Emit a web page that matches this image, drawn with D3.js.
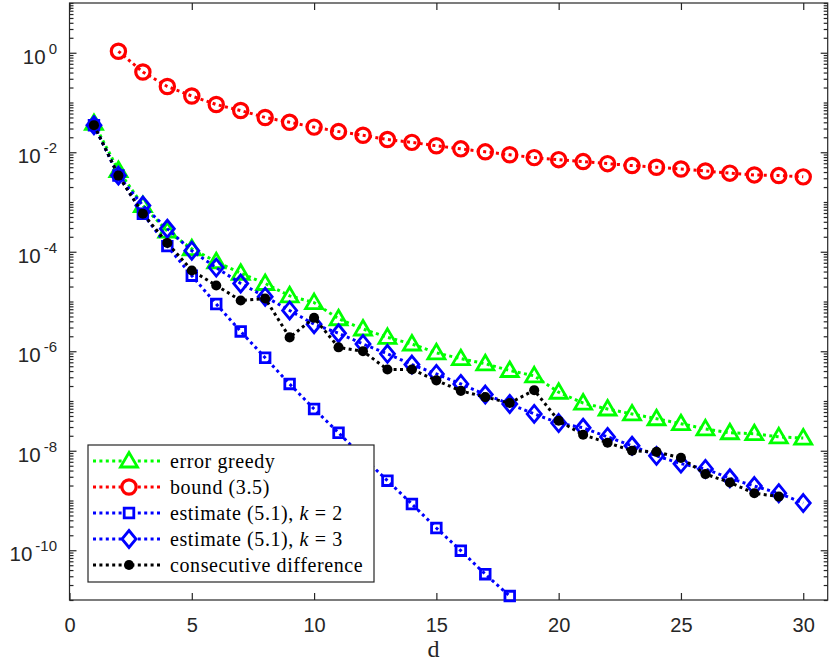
<!DOCTYPE html>
<html>
<head>
<meta charset="utf-8">
<script src="https://cdn.jsdelivr.net/npm/d3@7"></script>
<style>
  body { margin: 0; background: #fff; }
  svg { display: block; }
</style>
</head>
<body>
<svg id="chart" width="830" height="663"></svg>
<script>
// values
const dAll = d3.range(1, 31);

const errorGreedy = [3.8e-2, 4.3e-3, 8.5e-4, 2.6e-4, 1.15e-4, 6.3e-5, 3.7e-5, 2.3e-5, 1.3e-5, 9.5e-6,
  4.5e-6, 2.8e-6, 1.9e-6, 1.4e-6, 9.3e-7, 7.1e-7, 5.6e-7, 4.1e-7, 3.2e-7, 1.5e-7,
  9.1e-8, 6.9e-8, 5.5e-8, 4.4e-8, 3.5e-8, 2.75e-8, 2.3e-8, 2.2e-8, 1.9e-8, 1.8e-8];

const boundD = d3.range(2, 31);
const bound = [1.07, 0.41, 0.21, 0.135, 0.091, 0.069, 0.050, 0.040, 0.032, 0.026,
  0.022, 0.018, 0.0158, 0.0135, 0.0117, 0.0102, 0.0089, 0.0078, 0.0071, 0.0065,
  0.0059, 0.0054, 0.0050, 0.0046, 0.0042, 0.0038, 0.0035, 0.0034, 0.0032];

const estK2D = d3.range(1, 19);
const estK2 = [3.5e-2, 3.4e-3, 5.8e-4, 1.3e-4, 3.3e-5, 8.9e-6, 2.5e-6, 7.4e-7, 2.2e-7, 6.9e-8,
  2.3e-8, 7.4e-9, 2.5e-9, 8.5e-10, 2.8e-10, 9.8e-11, 3.3e-11, 1.2e-11];

const estK3 = [3.5e-2, 3.4e-3, 8.5e-4, 2.9e-4, 1.05e-4, 4.8e-5, 2.3e-5, 1.25e-5, 6.6e-6, 3.5e-6,
  2.3e-6, 1.4e-6, 8.9e-7, 5.4e-7, 3.5e-7, 2.2e-7, 1.35e-7, 8.7e-8, 5.5e-8, 3.6e-8,
  2.9e-8, 1.9e-8, 1.26e-8, 7.9e-9, 5.5e-9, 4.3e-9, 2.8e-9, 1.95e-9, 1.4e-9, 8.9e-10];

const consDiffD = d3.range(1, 30);
const consDiff = [3.5e-2, 3.4e-3, 5.8e-4, 1.5e-4, 4.2e-5, 2.1e-5, 1.05e-5, 1.15e-5, 1.9e-6, 4.7e-6,
  1.2e-6, 1.0e-6, 4.3e-7, 4.3e-7, 2.6e-7, 1.6e-7, 1.2e-7, 9.1e-8, 1.65e-7, 4.0e-8,
  2.1e-8, 1.45e-8, 1.0e-8, 9.5e-9, 7.2e-9, 3.4e-9, 2.3e-9, 1.4e-9, 1.2e-9];

const xTicks = [0, 5, 10, 15, 20, 25, 30];
const yLabelExp = [0, -2, -4, -6, -8, -10];

const svg = d3.select("#chart");
const axisColor = "#262626";

const pLeft = 69.5, pRight = 827.7, pTop = 3, pBottom = 600;
const x = d3.scaleLinear().domain([0, 31]).range([pLeft, pRight]);
const y = d3.scaleLog().domain([1e-11, 1e1]).range([pBottom, pTop]);

// box
svg.append("rect")
  .attr("x", pLeft).attr("y", pTop)
  .attr("width", pRight - pLeft).attr("height", pBottom - pTop)
  .attr("fill", "none").attr("stroke", axisColor).attr("stroke-width", 1.2);

// x axis bottom + top
svg.append("g")
  .attr("transform", `translate(0,${pBottom})`)
  .call(d3.axisBottom(x).tickValues(xTicks).tickSizeInner(-7).tickSizeOuter(0).tickPadding(17.5))
  .call(g => g.select(".domain").remove())
  .call(g => g.selectAll("line").attr("stroke", axisColor).attr("stroke-width", 1.2))
  .call(g => g.selectAll("text").attr("fill", axisColor)
    .style("font-family", "'Liberation Sans', Arial, sans-serif").style("font-size", "20px"));

svg.append("g")
  .attr("transform", `translate(0,${pTop})`)
  .call(d3.axisTop(x).tickValues(xTicks).tickSizeInner(-7).tickSizeOuter(0).tickFormat(""))
  .call(g => g.select(".domain").remove())
  .call(g => g.selectAll("line").attr("stroke", axisColor).attr("stroke-width", 1.2));

// y ticks: majors on labelled decades, minors everywhere else
const majorY = yLabelExp.map(e => Math.pow(10, e));
const minorY = [];
for (let e = -11; e <= 0; e++) {
  for (let m = 1; m <= 9; m++) {
    const v = m * Math.pow(10, e);
    if (m === 1 && e % 2 === 0) continue;
    minorY.push(v);
  }
}
minorY.push(10);

function yTicks(axisFn, xpos, values, size) {
  svg.append("g")
    .attr("transform", `translate(${xpos},0)`)
    .call(axisFn(y).tickValues(values).tickSizeInner(size).tickSizeOuter(0).tickFormat(""))
    .call(g => g.select(".domain").remove())
    .call(g => g.selectAll("line").attr("stroke", axisColor).attr("stroke-width", 1.2));
}
yTicks(d3.axisLeft, pLeft, majorY, -7);
yTicks(d3.axisLeft, pLeft, minorY, -4);
yTicks(d3.axisRight, pRight, majorY, -7);
yTicks(d3.axisRight, pRight, minorY, -4);

// y labels as 10^e
const yLab = svg.append("g").selectAll("text")
  .data(yLabelExp)
  .enter()
  .append("text")
  .attr("x", 57)
  .attr("y", e => y(Math.pow(10, e)) + 11)
  .attr("text-anchor", "end")
  .attr("fill", axisColor)
  .style("font-family", "'Liberation Sans', Arial, sans-serif")
  .style("font-size", "20.5px");
yLab.append("tspan").text("10");
yLab.append("tspan")
  .attr("dx", 3).attr("dy", -10)
  .style("font-size", "15px")
  .text(e => e === 0 ? "0" : "-" + Math.abs(e));

// x label
svg.append("text")
  .attr("x", (pLeft + pRight) / 2 - 15)
  .attr("y", 657)
  .attr("text-anchor", "middle")
  .attr("fill", axisColor)
  .style("font-family", "'Liberation Serif', 'DejaVu Serif', serif")
  .style("font-size", "24px")
  .text("d");

// marker shapes
const shapes = {
  triangle: "M0,-8.5L8.5,6L-8.5,6Z",
  circle: d3.symbol(d3.symbolCircle, 160)(),
  square: "M-4.8,-4.8H4.8V4.8H-4.8Z",
  diamond: "M0,-8.5L7,0L0,8.5L-7,0Z",
  dot: d3.symbol(d3.symbolCircle, 80)()
};

const series = [
  { name: "error greedy", xs: dAll, ys: errorGreedy, color: "#00ff00", shape: "triangle", sw: 2.8, fill: "none" },
  { name: "bound (3.5)", xs: boundD, ys: bound, color: "#ff0000", shape: "circle", sw: 3.2, fill: "none" },
  { name: "estimate (5.1), ", k: "2", xs: estK2D, ys: estK2, color: "#0000ff", shape: "square", sw: 2.8, fill: "none" },
  { name: "estimate (5.1), ", k: "3", xs: dAll, ys: estK3, color: "#0000ff", shape: "diamond", sw: 2.8, fill: "none" },
  { name: "consecutive difference", xs: consDiffD, ys: consDiff, color: "#000000", shape: "dot", sw: 0, fill: "#000000" }
];

const line = d3.line().x(d => x(d[0])).y(d => y(d[1]));
const plot = svg.append("g");

series.forEach(s => {
  const pts = s.xs.map((d, i) => [d, s.ys[i]]);
  const g = plot.append("g");
  g.append("path")
    .datum(pts)
    .attr("d", line)
    .attr("fill", "none")
    .attr("stroke", s.color)
    .attr("stroke-width", 3)
    .attr("stroke-dasharray", "3,3.4");
  g.selectAll("path.mk")
    .data(pts)
    .enter()
    .append("path")
    .attr("class", "mk")
    .attr("d", shapes[s.shape])
    .attr("transform", d => `translate(${x(d[0])},${y(d[1])})`)
    .attr("fill", s.fill)
    .attr("stroke", s.sw ? s.color : "none")
    .attr("stroke-width", s.sw);
});

// legend
const legX = 88, legY = 445, legW = 286, legH = 137, rowH = 26;
const legend = svg.append("g");
legend.append("rect")
  .attr("x", legX).attr("y", legY)
  .attr("width", legW).attr("height", legH)
  .attr("fill", "#fff").attr("stroke", axisColor).attr("stroke-width", 1.2);

const rows = legend.selectAll("g.row")
  .data(series)
  .enter()
  .append("g")
  .attr("class", "row")
  .attr("transform", (d, i) => `translate(0,${legY + 16 + i * rowH})`);

rows.append("line")
  .attr("x1", 93).attr("x2", 163).attr("y1", 0).attr("y2", 0)
  .attr("stroke", d => d.color)
  .attr("stroke-width", 3)
  .attr("stroke-dasharray", "3,3.4");

rows.append("path")
  .attr("d", d => shapes[d.shape])
  .attr("transform", "translate(129,0)")
  .attr("fill", d => d.fill === "none" ? "#fff" : d.fill)
  .attr("stroke", d => d.sw ? d.color : "none")
  .attr("stroke-width", d => d.sw);

const lt = rows.append("text")
  .attr("x", 170)
  .attr("y", 6.5)
  .attr("fill", "#000")
  .style("font-family", "'Liberation Serif', 'DejaVu Serif', serif")
  .style("font-size", "20px")
  .style("letter-spacing", "0.6px");
lt.append("tspan").text(d => d.name);
lt.filter(d => d.k).append("tspan").style("font-style", "italic").text("k");
lt.filter(d => d.k).append("tspan").text(d => " = " + d.k);
</script>
</body>
</html>
